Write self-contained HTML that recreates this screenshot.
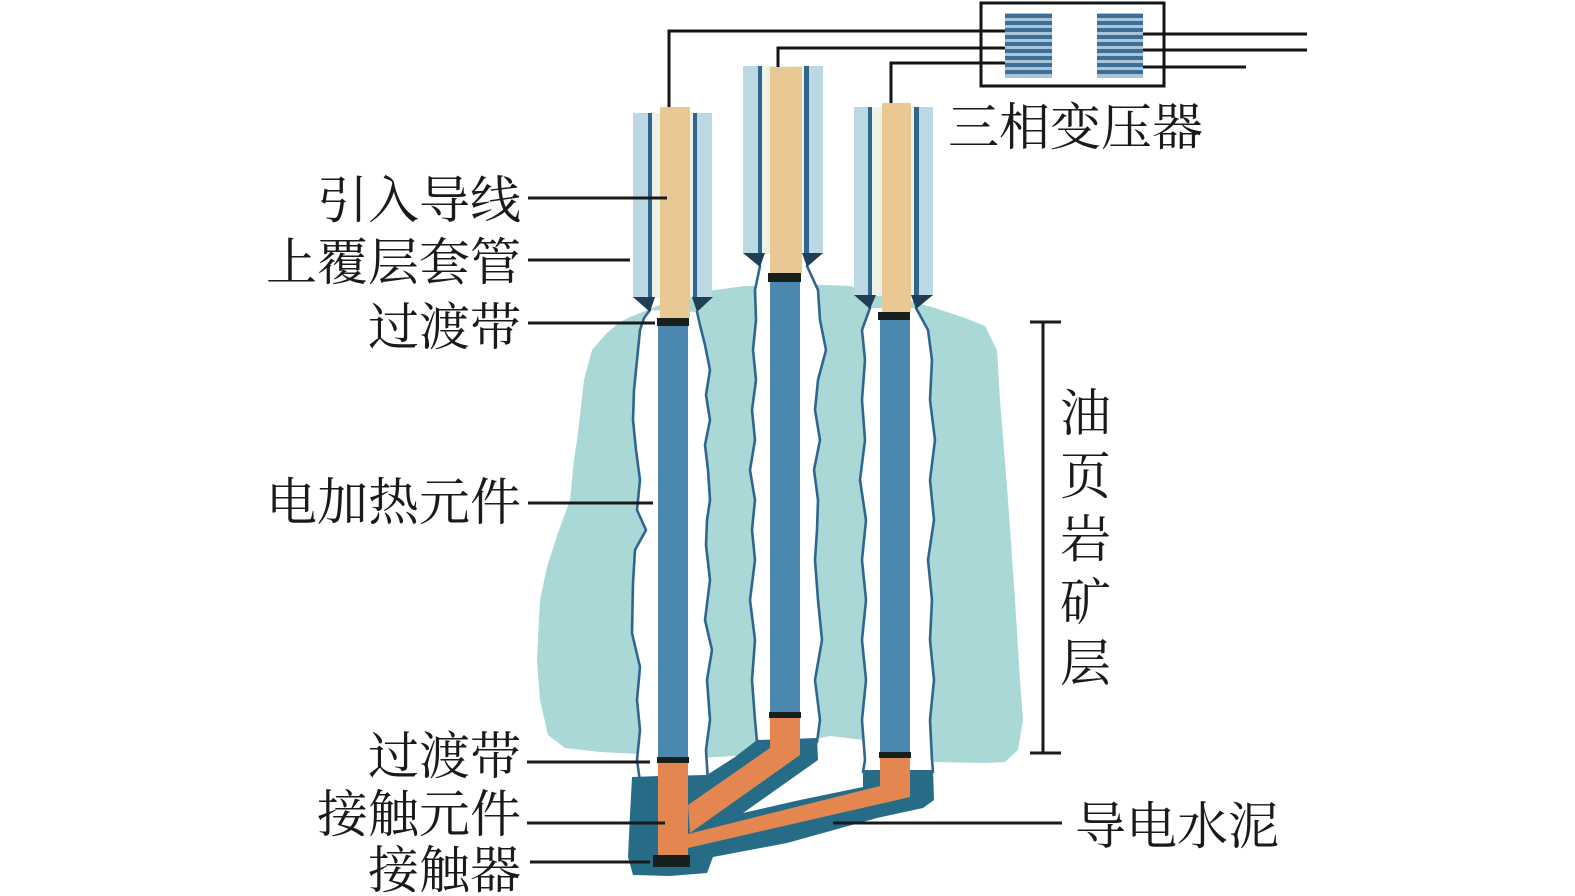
<!DOCTYPE html>
<html>
<head>
<meta charset="utf-8">
<style>
  html, body { margin:0; padding:0; background:#ffffff; }
  body { width:1575px; height:896px; overflow:hidden; }
  svg { display:block; }
  .lbl { font-family: "Liberation Serif", "Noto Serif CJK SC", serif; font-size:51px; fill:#1a1a1a; }
</style>
</head>
<body>
<svg width="1575" height="896" viewBox="0 0 1575 896" xmlns="http://www.w3.org/2000/svg">
  <rect x="0" y="0" width="1575" height="896" fill="#ffffff"/>

  <!-- Oil shale rock body -->
  <polygon fill="#a9d8d6" points="
    630,317 660,305 700,292 745,286 800,284 850,286 900,298 935,308 965,318 985,326 997,350
    1000,400 1008,500 1015,600 1020,680 1023,720 1018,750 1005,762 985,763 935,762 880,742
    830,736 790,745 750,755 700,758 640,754 600,752 565,748 548,735 540,700 537,660 540,600
    547,567 558,533 570,500 574,460 578,433 584,380 592,350 607,333 620,322"/>

  <!-- Boreholes (white) -->
  <polygon fill="#ffffff" points="
    650,310 644,318 640,330 637,360 634,390 633,420 636,450 640,480 637,510 646,530 635,550 633,583 632,633 640,667 637,700 640,730 637,760 640,785
    708,785 706,750 710,720 707,680 712,650 705,620 710,580 706,545 707,520 710,500 708,470 705,445 710,420 706,395 710,370 705,345 700,325 697,312"/>
  <polygon fill="#ffffff" points="
    760,266 755,290 756,320 753,350 756,380 752,410 755,440 750,470 755,500 752,530 755,560 750,600 755,640 752,680 755,720 757,745
    817,745 820,720 815,680 822,640 818,600 815,560 817,530 818,500 814,470 820,440 815,410 818,380 826,350 820,320 818,290 807,266"/>
  <polygon fill="#ffffff" points="
    870,308 862,330 865,360 862,400 865,440 860,480 866,520 862,560 866,600 862,640 866,680 862,720 865,760 863,775
    933,775 932,760 930,720 934,680 930,640 932,600 928,560 934,520 930,480 935,440 930,400 932,360 928,330 916,308"/>

  <!-- Wavy borehole walls -->
  <g fill="none" stroke="#2f6690" stroke-width="2.6" stroke-linejoin="round" stroke-linecap="round">
    <polyline points="650,310 644,318 640,330 637,360 634,390 633,420 636,450 640,480 637,510 646,530 635,550 633,583 632,633 640,667 637,700 640,730 637,760 640,782"/>
    <polyline points="697,312 700,325 705,345 710,370 706,395 710,420 705,445 708,470 710,500 707,520 706,545 710,580 705,620 712,650 707,680 710,720 706,750 708,782"/>
    <polyline points="760,266 755,290 756,320 753,350 756,380 752,410 755,440 750,470 755,500 752,530 755,560 750,600 755,640 752,680 755,720 757,742"/>
    <polyline points="807,266 818,290 820,320 826,350 818,380 815,410 820,440 814,470 818,500 817,530 815,560 818,600 822,640 815,680 820,720 817,742"/>
    <polyline points="870,308 862,330 865,360 862,400 865,440 860,480 866,520 862,560 866,600 862,640 866,680 862,720 865,760 863,772"/>
    <polyline points="916,308 928,330 932,360 930,400 935,440 930,480 934,520 928,560 932,600 930,640 934,680 930,720 932,760 933,772"/>
  </g>

  <!-- Conductive cement -->
  <polygon fill="#266c87" points="
    632,777 660,776 707,775 735,757 757,740 790,739 817,738 818,760 743,813 800,800 863,787 863,770
    933,770 934,800 923,808 877,818 787,843 713,857 707,873 670,876 633,875 628,857 630,815"/>

  <!-- Heating elements -->
  <rect x="658" y="326" width="30" height="431" fill="#4b87ae"/>
  <rect x="770" y="282" width="30" height="430" fill="#4b87ae"/>
  <rect x="880" y="320" width="30" height="432" fill="#4b87ae"/>

  <!-- Contact elements (orange) -->
  <rect x="658" y="763" width="30" height="93" fill="#e3864f"/>
  <polygon fill="#e3864f" points="770,718 800,718 800,755 690,833 688,805 770,748"/>
  <polygon fill="#e3864f" points="880,758 910,758 910,797 688,848 688,834 880,786"/>

  <!-- Transition bands (black) -->
  <rect x="657" y="318" width="32" height="8" fill="#17201c"/>
  <rect x="768" y="273" width="33" height="9" fill="#17201c"/>
  <rect x="878" y="312" width="32" height="8" fill="#17201c"/>
  <rect x="657" y="757" width="32" height="6" fill="#17201c"/>
  <rect x="769" y="712" width="32" height="6" fill="#17201c"/>
  <rect x="879" y="752" width="32" height="6" fill="#17201c"/>
  <!-- Contactor -->
  <rect x="653" y="855" width="37" height="12" fill="#17201c"/>

  <!-- Casings rod1 -->
  <rect x="633" y="113" width="79" height="185" fill="#bcd9e3"/>
  <rect x="652" y="113" width="41" height="185" fill="#eef2e4"/>
  <rect x="648" y="113" width="4" height="185" fill="#2f6690"/>
  <rect x="693" y="113" width="4" height="185" fill="#2f6690"/>
  <rect x="660" y="107" width="30" height="211" fill="#e9c893"/>
  <polygon fill="#1f3f55" points="633,297 655,297 650,312"/>
  <polygon fill="#1f3f55" points="692,297 713,297 697,312"/>

  <!-- Casings rod2 -->
  <rect x="743" y="66" width="80" height="188" fill="#bcd9e3"/>
  <rect x="762" y="66" width="42" height="188" fill="#eef2e4"/>
  <rect x="758" y="66" width="4" height="188" fill="#2f6690"/>
  <rect x="804" y="66" width="5" height="188" fill="#2f6690"/>
  <rect x="770" y="67" width="32" height="206" fill="#e9c893"/>
  <polygon fill="#1f3f55" points="743,253 765,253 760,267"/>
  <polygon fill="#1f3f55" points="802,253 823,253 807,267"/>

  <!-- Casings rod3 -->
  <rect x="854" y="107" width="79" height="189" fill="#bcd9e3"/>
  <rect x="872" y="107" width="42" height="189" fill="#eef2e4"/>
  <rect x="868" y="107" width="4" height="189" fill="#2f6690"/>
  <rect x="914" y="107" width="5" height="189" fill="#2f6690"/>
  <rect x="882" y="103" width="29" height="209" fill="#e9c893"/>
  <polygon fill="#1f3f55" points="854,295 876,295 870,309"/>
  <polygon fill="#1f3f55" points="911,295 933,295 916,309"/>

  <!-- Transformer -->
  <rect x="981" y="3" width="183" height="83" fill="#ffffff" stroke="#141414" stroke-width="3"/>
  <g>
    <rect x="1005" y="13" width="47" height="65" fill="#a9c4d6"/>
    <rect x="1005" y="14" width="47" height="4" fill="#3d6f98"/>
    <rect x="1005" y="21" width="47" height="4" fill="#3d6f98"/>
    <rect x="1005" y="28" width="47" height="4" fill="#3d6f98"/>
    <rect x="1005" y="35" width="47" height="4" fill="#3d6f98"/>
    <rect x="1005" y="42" width="47" height="4" fill="#3d6f98"/>
    <rect x="1005" y="49" width="47" height="4" fill="#3d6f98"/>
    <rect x="1005" y="56" width="47" height="4" fill="#3d6f98"/>
    <rect x="1005" y="63" width="47" height="4" fill="#3d6f98"/>
    <rect x="1005" y="70" width="47" height="4" fill="#3d6f98"/>
    <rect x="1097" y="13" width="46" height="65" fill="#a9c4d6"/>
    <rect x="1097" y="14" width="46" height="4" fill="#3d6f98"/>
    <rect x="1097" y="21" width="46" height="4" fill="#3d6f98"/>
    <rect x="1097" y="28" width="46" height="4" fill="#3d6f98"/>
    <rect x="1097" y="35" width="46" height="4" fill="#3d6f98"/>
    <rect x="1097" y="42" width="46" height="4" fill="#3d6f98"/>
    <rect x="1097" y="49" width="46" height="4" fill="#3d6f98"/>
    <rect x="1097" y="56" width="46" height="4" fill="#3d6f98"/>
    <rect x="1097" y="63" width="46" height="4" fill="#3d6f98"/>
    <rect x="1097" y="70" width="46" height="4" fill="#3d6f98"/>
  </g>

  <!-- Wires -->
  <g fill="none" stroke="#141414" stroke-width="3">
    <polyline points="669,107 669,31 1005,31"/>
    <polyline points="778,67 778,48 1005,48"/>
    <polyline points="891,103 891,63 1005,63"/>
    <line x1="1143" y1="34" x2="1307" y2="34"/>
    <line x1="1143" y1="50" x2="1307" y2="50"/>
    <line x1="1143" y1="67" x2="1246" y2="67"/>
  </g>

  <!-- Leader lines -->
  <g stroke="#1a1a1a" stroke-width="3">
    <line x1="528" y1="198" x2="667" y2="198"/>
    <line x1="528" y1="260" x2="630" y2="260"/>
    <line x1="528" y1="323" x2="655" y2="323"/>
    <line x1="528" y1="503" x2="653" y2="503"/>
    <line x1="527" y1="762" x2="650" y2="762"/>
    <line x1="527" y1="823" x2="665" y2="823"/>
    <line x1="530" y1="862" x2="650" y2="862"/>
    <line x1="833" y1="823" x2="1062" y2="823"/>
    <!-- bracket -->
    <line x1="1043" y1="322" x2="1043" y2="753"/>
    <line x1="1030" y1="322" x2="1061" y2="322"/>
    <line x1="1030" y1="753" x2="1061" y2="753"/>
  </g>

  <!-- Labels -->
  <text class="lbl" x="521" y="218" text-anchor="end">引入导线</text>
  <text class="lbl" x="521" y="280" text-anchor="end">上覆层套管</text>
  <text class="lbl" x="521" y="345" text-anchor="end">过渡带</text>
  <text class="lbl" x="521" y="520" text-anchor="end">电加热元件</text>
  <text class="lbl" x="521" y="774" text-anchor="end">过渡带</text>
  <text class="lbl" x="521" y="832" text-anchor="end">接触元件</text>
  <text class="lbl" x="521" y="888" text-anchor="end">接触器</text>
  <text class="lbl" x="1075" y="844">导电水泥</text>
  <text class="lbl" x="948" y="145">三相变压器</text>
  <text class="lbl" x="1060" y="431">油</text>
  <text class="lbl" x="1060" y="494">页</text>
  <text class="lbl" x="1060" y="557">岩</text>
  <text class="lbl" x="1060" y="620">矿</text>
  <text class="lbl" x="1060" y="681">层</text>
</svg>
</body>
</html>
